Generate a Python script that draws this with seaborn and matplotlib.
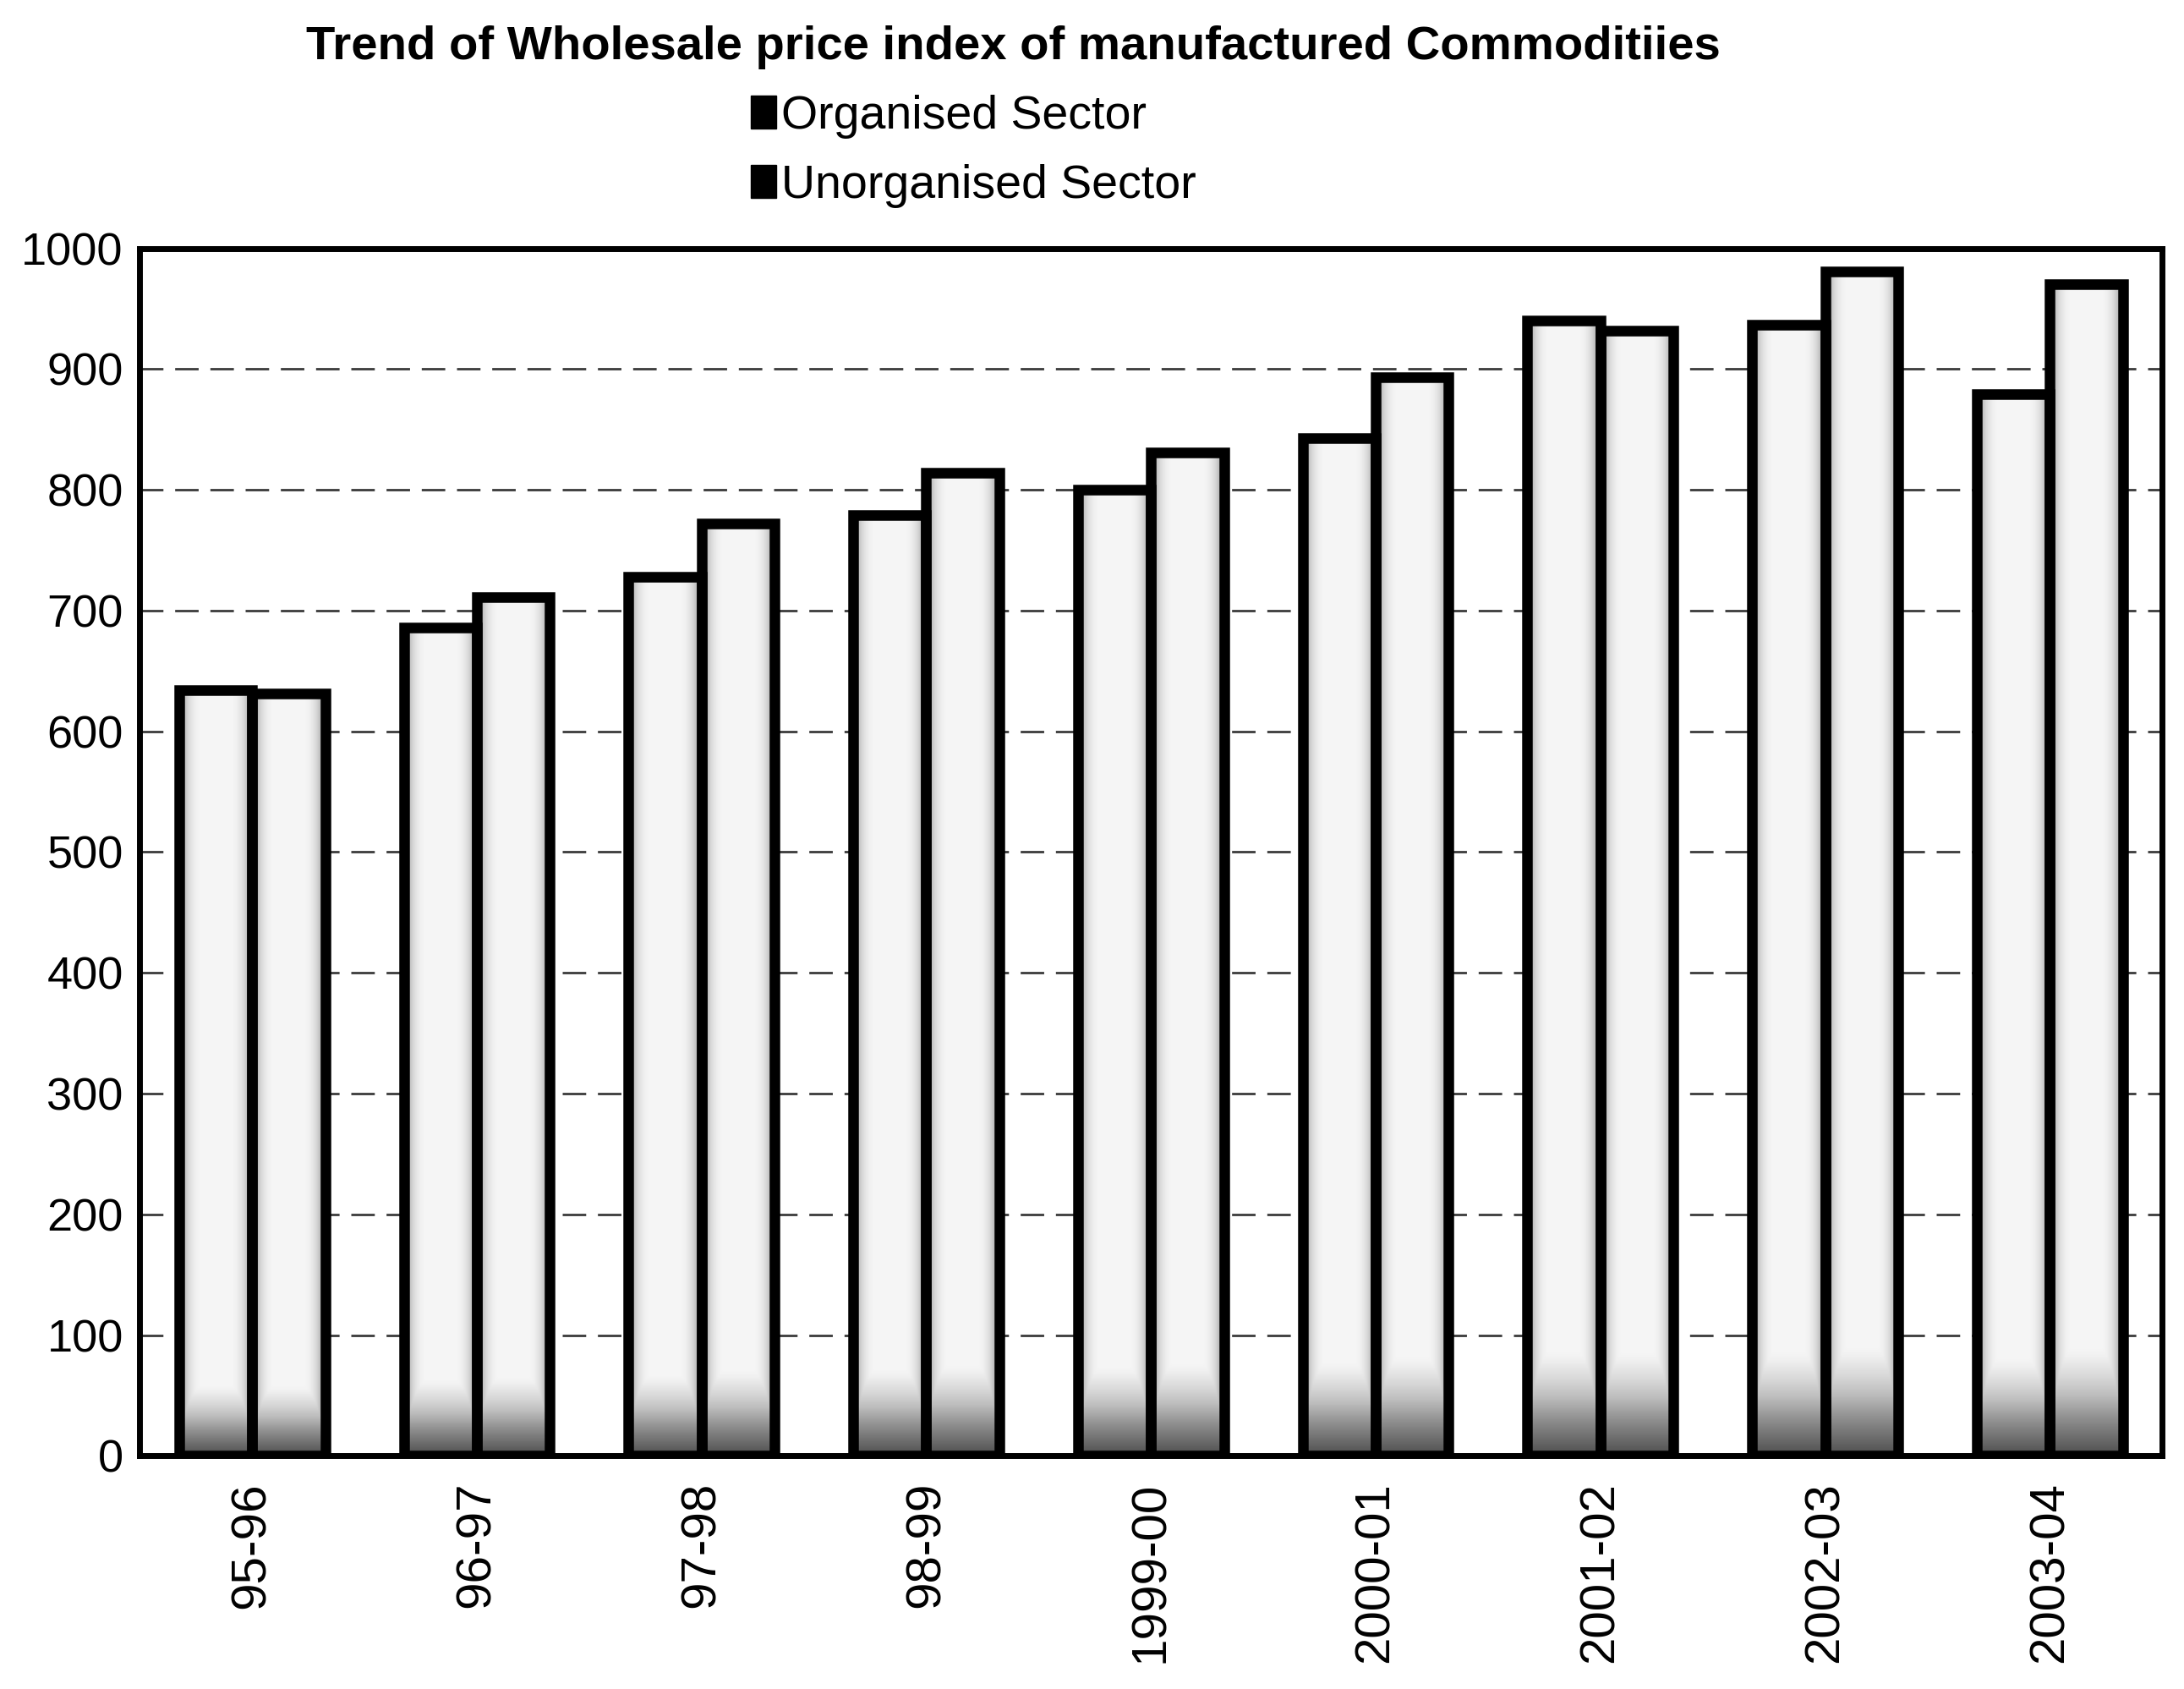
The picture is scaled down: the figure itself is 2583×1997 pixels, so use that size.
"""
Trend of Wholesale price index of manufactured commodities,
organised vs unorganised sector, 1995-96 to 2003-04.
"""

import numpy as np
import pandas as pd
import matplotlib
matplotlib.use('Agg')
import matplotlib.pyplot as plt
from matplotlib.patches import Patch
import seaborn as sns

# values
years = ['95-96', '96-97', '97-98', '98-99', '1999-00',
         '2000-01', '2001-02', '2002-03', '2003-04']
organised = [634, 686, 728, 779, 800, 843, 940, 937, 879]
unorganised = [631, 711, 772, 814, 831, 893, 932, 981, 970]
sectors = ['Organised Sector', 'Unorganised Sector']
y_ticks = list(range(0, 1001, 100))

df = pd.DataFrame({
    'year': years * 2,
    'value': organised + unorganised,
    'sector': [sectors[0]] * len(years) + [sectors[1]] * len(years),
})

sns.set_style('white')
plt.rcParams['font.family'] = ['Liberation Sans', 'DejaVu Sans']
plt.rcParams['text.color'] = 'black'
plt.rcParams['xtick.color'] = 'black'
plt.rcParams['ytick.color'] = 'black'

fig = plt.figure(figsize=(25.83, 19.97), dpi=100)
ax = fig.add_axes([0.064, 0.138, 0.926, 0.715])

sns.barplot(data=df, x='year', y='value', hue='sector', order=years,
            hue_order=sectors, palette=['#f4f4f4', '#f4f4f4'],
            edgecolor='black', linewidth=9, width=0.65, gap=0,
            legend=False, errorbar=None, ax=ax)

# scanned look: dark at the foot of each bar, grey towards the sides
gy, gx = np.mgrid[0:1:300j, 0:1:60j]
shade = np.maximum(np.clip(1 - gy / 0.10, 0, 1) * 0.75,
                   0.6 * np.exp(-np.minimum(gx, 1 - gx) / 0.14))
shade = np.maximum(shade, 0.08)
for p in list(ax.patches):
    x0, w, h = p.get_x(), p.get_width(), p.get_height()
    if h <= 0:
        continue
    im = ax.imshow(shade, extent=[x0, x0 + w, 0, h], origin='lower',
                   aspect='auto', cmap='Greys', vmin=0, vmax=1,
                   zorder=1.5, interpolation='bilinear')
    im.set_clip_path(p)
    p.set_facecolor('none')
    p.set_zorder(2)

ax.set_xlim(-0.5, len(years) - 0.5)
ax.set_ylim(0, 1000)
ax.set_yticks(y_ticks)
ax.set_yticklabels([str(t) for t in y_ticks], fontsize=39)
ax.tick_params(axis='x', labelrotation=90, labelsize=42, length=0, pad=22)
ax.tick_params(axis='y', length=0, pad=14)
ax.set_xlabel('')
ax.set_ylabel('')

ax.yaxis.grid(True, color='#3a3a3a', linestyle=(0, (10, 5)), linewidth=2)
ax.set_axisbelow(True)
for s in ax.spines.values():
    s.set_visible(True)
    s.set_color('black')
    s.set_linewidth(5)

fig.text(0.464, 0.972, 'Trend of Wholesale price index of manufactured Commoditiies',
         ha='center', va='center', fontsize=40.5, fontweight='bold', color='black')

handles = [Patch(facecolor='black', edgecolor='black') for _ in sectors]
fig.legend(handles, sectors, loc='upper left', bbox_to_anchor=(0.333, 0.958),
           frameon=False, fontsize=40, handlelength=0.55, handleheight=0.7,
           handletextpad=0.1, labelspacing=0.55, borderpad=0)

fig.savefig('out.png', dpi=100)
print('saved out.png')
